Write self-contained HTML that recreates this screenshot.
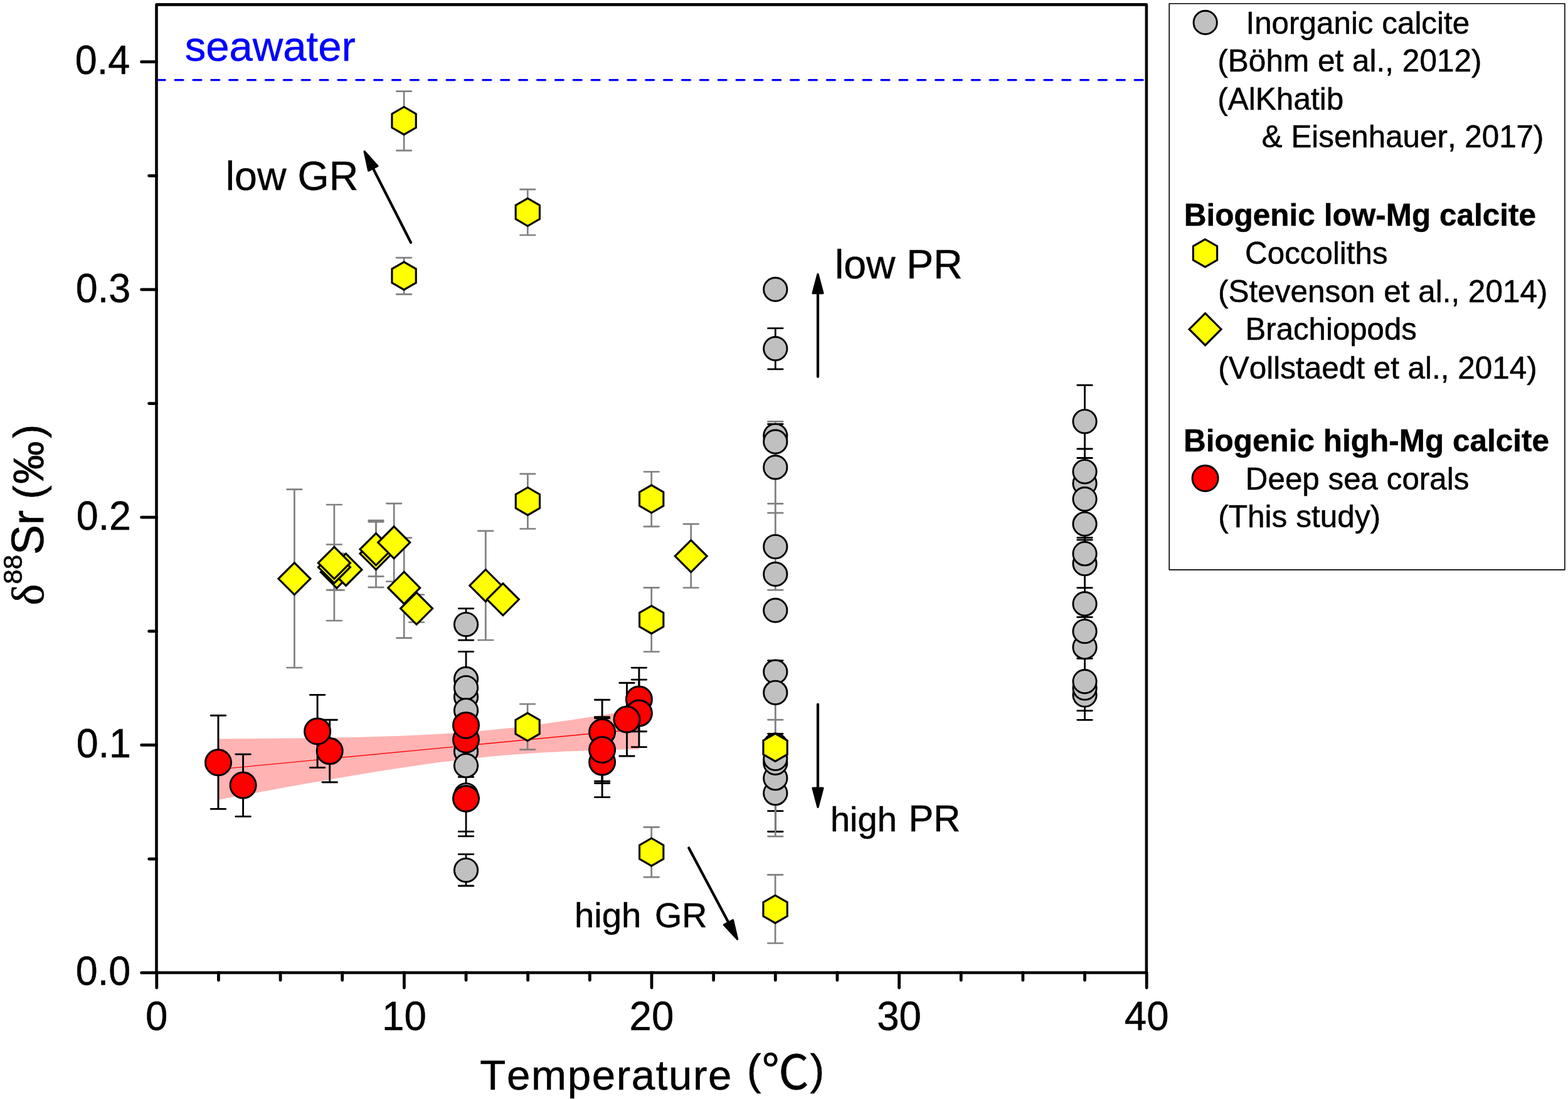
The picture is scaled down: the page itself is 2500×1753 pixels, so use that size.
<!DOCTYPE html>
<html lang="en"><head><meta charset="utf-8"><title>δ88Sr versus temperature</title>
<style>html,body{margin:0;padding:0;background:#fff}body{width:2500px;height:1753px;overflow:hidden}svg{display:block}text{white-space:pre;font-kerning:none;stroke:#000;stroke-width:0.5px;stroke-linejoin:round}</style>
</head><body>
<svg width="2500" height="1753" viewBox="0 0 2500 1753" role="img" aria-label="Strontium isotope composition versus temperature">
<rect x="0" y="0" width="2500" height="1753" fill="#ffffff"/>
<polygon points="348,1178.5 364.77,1178.42 381.55,1178.32 398.32,1178.21 415.1,1178.08 431.88,1177.94 448.65,1177.78 465.43,1177.59 482.2,1177.39 498.98,1177.16 515.75,1176.9 532.52,1176.6 549.3,1176.27 566.08,1175.9 582.85,1175.49 599.62,1175.02 616.4,1174.49 633.17,1173.9 649.95,1173.23 666.73,1172.48 683.5,1171.64 700.27,1170.69 717.05,1169.64 733.83,1168.47 750.6,1167.17 767.38,1165.74 784.15,1164.17 800.92,1162.47 817.7,1160.64 834.48,1158.68 851.25,1156.6 868.02,1154.4 884.8,1152.09 901.58,1149.69 918.35,1147.19 935.12,1144.62 951.9,1141.98 968.67,1139.28 985.45,1136.52 1002.23,1133.71 1019,1130.85 1019,1195 1002.23,1195.35 985.45,1195.75 968.67,1196.19 951.9,1196.69 935.12,1197.26 918.35,1197.9 901.58,1198.61 884.8,1199.42 868.02,1200.32 851.25,1201.32 834.48,1202.45 817.7,1203.69 800.92,1205.07 784.15,1206.58 767.38,1208.22 750.6,1210 733.83,1211.91 717.05,1213.94 700.27,1216.1 683.5,1218.36 666.73,1220.72 649.95,1223.18 633.17,1225.72 616.4,1228.33 599.62,1231.01 582.85,1233.75 566.08,1236.54 549.3,1239.38 532.52,1242.26 515.75,1245.17 498.98,1248.12 482.2,1251.1 465.43,1254.1 448.65,1257.12 431.88,1260.17 415.1,1263.23 398.32,1266.31 381.55,1269.41 364.77,1272.52 348,1275.64" fill="#ffb3b3"/>
<line x1="348" y1="1227.07" x2="1019" y2="1162.92" stroke="#ff0000" stroke-width="1.3"/>
<line x1="249.5" y1="127.6" x2="1827.9" y2="127.6" stroke="#0000ff" stroke-width="3.3" stroke-linecap="round" stroke-dasharray="12.9 15.97" stroke-dashoffset="-0.75"/>
<g id="errorbars">
<path d="M743.05 970.6V1021.1M731.25 970.6H754.85M731.25 1021.1H754.85" stroke="#000000" stroke-width="2.8" stroke-linecap="round" fill="none"/>
<path d="M743.05 1039.4V1333.9M731.25 1039.4H754.85M731.25 1239.4H754.85M731.25 1326.4H754.85M731.25 1333.9H754.85" stroke="#000000" stroke-width="2.8" stroke-linecap="round" fill="none"/>
<path d="M743.05 1362.6V1413M731.25 1362.6H754.85M731.25 1413H754.85" stroke="#000000" stroke-width="2.8" stroke-linecap="round" fill="none"/>
<path d="M1236.3 523.7V588.8M1224.5 523.7H1248.1M1224.5 588.8H1248.1" stroke="#000000" stroke-width="2.8" stroke-linecap="round" fill="none"/>
<path d="M1236.3 676.5V732M1224.5 676.5H1248.1" stroke="#000000" stroke-width="2.8" stroke-linecap="round" fill="none"/>
<path d="M1236.3 1053.6V1090M1224.5 1053.6H1248.1" stroke="#000000" stroke-width="2.8" stroke-linecap="round" fill="none"/>
<path d="M1236.3 1170.3V1326.5M1224.5 1170.3H1248.1M1224.5 1293.7H1248.1M1224.5 1326.5H1248.1" stroke="#000000" stroke-width="2.8" stroke-linecap="round" fill="none"/>
<path d="M1236.3 672.4V941.2M1224.5 672.4H1248.1M1224.5 803.3H1248.1M1224.5 818.2H1248.1M1224.5 941.2H1248.1" stroke="#808080" stroke-width="2.8" stroke-linecap="round" fill="none"/>
<path d="M1236.3 1104.8V1334.1M1224.5 1148.1H1248.1M1224.5 1334.1H1248.1" stroke="#808080" stroke-width="2.8" stroke-linecap="round" fill="none"/>
<path d="M1729.55 614.4V1148.3M1717.75 614.4H1741.35M1717.75 716H1741.35M1717.75 730.5H1741.35M1717.75 857.6H1741.35M1717.75 861.2H1741.35M1717.75 937.6H1741.35M1717.75 984.4H1741.35M1717.75 1050.4H1741.35M1717.75 1133.7H1741.35M1717.75 1148.3H1741.35" stroke="#000000" stroke-width="2.8" stroke-linecap="round" fill="none"/>
<path d="M469.4 780.6V1065M457.55 780.6H481.25M457.55 1065H481.25" stroke="#808080" stroke-width="2.7" stroke-linecap="round" fill="none"/>
<path d="M536.9 882.9V941.2M525.05 882.9H548.75M525.05 941.2H548.75" stroke="#808080" stroke-width="2.7" stroke-linecap="round" fill="none"/>
<path d="M532.9 868.5V941.2M521.05 868.5H544.75M521.05 941.2H544.75" stroke="#808080" stroke-width="2.7" stroke-linecap="round" fill="none"/>
<path d="M532.9 805V990M521.05 805H544.75M521.05 990H544.75" stroke="#808080" stroke-width="2.7" stroke-linecap="round" fill="none"/>
<path d="M599.5 832.3V936.8M587.65 832.3H611.35M587.65 936.8H611.35" stroke="#808080" stroke-width="2.7" stroke-linecap="round" fill="none"/>
<path d="M599.5 830.1V919.4M587.65 830.1H611.35M587.65 919.4H611.35" stroke="#808080" stroke-width="2.7" stroke-linecap="round" fill="none"/>
<path d="M628.2 803.1V927.5M616.35 803.1H640.05M616.35 927.5H640.05" stroke="#808080" stroke-width="2.7" stroke-linecap="round" fill="none"/>
<path d="M644.2 857.9V1017.6M632.35 857.9H656.05M632.35 1017.6H656.05" stroke="#808080" stroke-width="2.7" stroke-linecap="round" fill="none"/>
<path d="M664.1 948.5V992.5M652.25 948.5H675.95M652.25 992.5H675.95" stroke="#808080" stroke-width="2.7" stroke-linecap="round" fill="none"/>
<path d="M774.3 846.9V1021M762.45 846.9H786.15M762.45 1021H786.15" stroke="#808080" stroke-width="2.7" stroke-linecap="round" fill="none"/>
<path d="M1101.7 835.9V937.5M1089.85 835.9H1113.55M1089.85 937.5H1113.55" stroke="#808080" stroke-width="2.7" stroke-linecap="round" fill="none"/>
<path d="M644.1 145.6V240.2M632.25 145.6H655.95M632.25 240.2H655.95" stroke="#808080" stroke-width="2.7" stroke-linecap="round" fill="none"/>
<path d="M644.1 411.1V469.4M632.25 411.1H655.95M632.25 469.4H655.95" stroke="#808080" stroke-width="2.7" stroke-linecap="round" fill="none"/>
<path d="M841.3 302.1V375M829.45 302.1H853.15M829.45 375H853.15" stroke="#808080" stroke-width="2.7" stroke-linecap="round" fill="none"/>
<path d="M841.4 755.9V843.5M829.55 755.9H853.25M829.55 843.5H853.25" stroke="#808080" stroke-width="2.7" stroke-linecap="round" fill="none"/>
<path d="M1038.7 752.5V839.8M1026.85 752.5H1050.55M1026.85 839.8H1050.55" stroke="#808080" stroke-width="2.7" stroke-linecap="round" fill="none"/>
<path d="M1038.7 937.3V1039.5M1026.85 937.3H1050.55M1026.85 1039.5H1050.55" stroke="#808080" stroke-width="2.7" stroke-linecap="round" fill="none"/>
<path d="M841.1 1123V1195.6M829.25 1123H852.95M829.25 1195.6H852.95" stroke="#808080" stroke-width="2.7" stroke-linecap="round" fill="none"/>
<path d="M1038.7 1319.4V1399.1M1026.85 1319.4H1050.55M1026.85 1399.1H1050.55" stroke="#808080" stroke-width="2.7" stroke-linecap="round" fill="none"/>
<path d="M1236.1 1395.4V1504.5M1224.25 1395.4H1247.95M1224.25 1504.5H1247.95" stroke="#808080" stroke-width="2.7" stroke-linecap="round" fill="none"/>
<path d="M348 1141.2V1290.4M336.25 1141.2H359.75M336.25 1290.4H359.75" stroke="#000000" stroke-width="2.9" stroke-linecap="round" fill="none"/>
<path d="M387.6 1203.1V1302.4M375.85 1203.1H399.35M375.85 1302.4H399.35" stroke="#000000" stroke-width="2.9" stroke-linecap="round" fill="none"/>
<path d="M525.7 1148.2V1247.7M513.95 1148.2H537.45M513.95 1247.7H537.45" stroke="#000000" stroke-width="2.9" stroke-linecap="round" fill="none"/>
<path d="M506.1 1108.4V1224.4M494.35 1108.4H517.85M494.35 1224.4H517.85" stroke="#000000" stroke-width="2.9" stroke-linecap="round" fill="none"/>
<path d="M960.1 1116.3V1219M948.35 1116.3H971.85M948.35 1219H971.85" stroke="#000000" stroke-width="2.9" stroke-linecap="round" fill="none"/>
<path d="M960.1 1160V1271.6M948.35 1160H971.85M948.35 1271.6H971.85" stroke="#000000" stroke-width="2.9" stroke-linecap="round" fill="none"/>
<path d="M960.1 1143.7V1246.1M948.35 1143.7H971.85M948.35 1246.1H971.85" stroke="#000000" stroke-width="2.9" stroke-linecap="round" fill="none"/>
<path d="M960.1 1145.5V1249.3M948.35 1145.5H971.85M948.35 1249.3H971.85" stroke="#000000" stroke-width="2.9" stroke-linecap="round" fill="none"/>
<path d="M1018.9 1065.1V1166.8M1007.15 1065.1H1030.65M1007.15 1166.8H1030.65" stroke="#000000" stroke-width="2.9" stroke-linecap="round" fill="none"/>
<path d="M1018.9 1084.1V1191.6M1007.15 1084.1H1030.65M1007.15 1191.6H1030.65" stroke="#000000" stroke-width="2.9" stroke-linecap="round" fill="none"/>
<path d="M999.5 1089.3V1206M987.75 1089.3H1011.25M987.75 1206H1011.25" stroke="#000000" stroke-width="2.9" stroke-linecap="round" fill="none"/>
</g>
<g id="inorganic">
<circle cx="743.05" cy="1082.9" r="18.65" fill="#c0c0c0" stroke="#000" stroke-width="2.9"/>
<circle cx="743.05" cy="1111.7" r="18.65" fill="#c0c0c0" stroke="#000" stroke-width="2.9"/>
<circle cx="743.05" cy="1097" r="18.65" fill="#c0c0c0" stroke="#000" stroke-width="2.9"/>
<circle cx="743.05" cy="1133.2" r="18.65" fill="#c0c0c0" stroke="#000" stroke-width="2.9"/>
<circle cx="743.05" cy="1198.8" r="18.65" fill="#c0c0c0" stroke="#000" stroke-width="2.9"/>
<circle cx="743.05" cy="1221.2" r="18.65" fill="#c0c0c0" stroke="#000" stroke-width="2.9"/>
<circle cx="743.05" cy="1268.3" r="18.65" fill="#c0c0c0" stroke="#000" stroke-width="2.9"/>
<circle cx="743.05" cy="996" r="18.65" fill="#c0c0c0" stroke="#000" stroke-width="2.9"/>
<circle cx="743.05" cy="1388" r="18.65" fill="#c0c0c0" stroke="#000" stroke-width="2.9"/>
<circle cx="1236.3" cy="461.6" r="18.65" fill="#c0c0c0" stroke="#000" stroke-width="2.9"/>
<circle cx="1236.3" cy="556.1" r="18.65" fill="#c0c0c0" stroke="#000" stroke-width="2.9"/>
<circle cx="1236.3" cy="695" r="18.65" fill="#c0c0c0" stroke="#000" stroke-width="2.9"/>
<circle cx="1236.3" cy="704.6" r="18.65" fill="#c0c0c0" stroke="#000" stroke-width="2.9"/>
<circle cx="1236.3" cy="745.4" r="18.65" fill="#c0c0c0" stroke="#000" stroke-width="2.9"/>
<circle cx="1236.3" cy="872" r="18.65" fill="#c0c0c0" stroke="#000" stroke-width="2.9"/>
<circle cx="1236.3" cy="915.9" r="18.65" fill="#c0c0c0" stroke="#000" stroke-width="2.9"/>
<circle cx="1236.3" cy="973.6" r="18.65" fill="#c0c0c0" stroke="#000" stroke-width="2.9"/>
<circle cx="1236.3" cy="1071.6" r="18.65" fill="#c0c0c0" stroke="#000" stroke-width="2.9"/>
<circle cx="1236.3" cy="1104.8" r="18.65" fill="#c0c0c0" stroke="#000" stroke-width="2.9"/>
<circle cx="1236.3" cy="1188.5" r="18.65" fill="#c0c0c0" stroke="#000" stroke-width="2.9"/>
<circle cx="1236.3" cy="1265.2" r="18.65" fill="#c0c0c0" stroke="#000" stroke-width="2.9"/>
<circle cx="1236.3" cy="1241.2" r="18.65" fill="#c0c0c0" stroke="#000" stroke-width="2.9"/>
<circle cx="1236.3" cy="1216.9" r="18.65" fill="#c0c0c0" stroke="#000" stroke-width="2.9"/>
<circle cx="1236.3" cy="1209.9" r="18.65" fill="#c0c0c0" stroke="#000" stroke-width="2.9"/>
<circle cx="1729.55" cy="1108.5" r="18.65" fill="#c0c0c0" stroke="#000" stroke-width="2.9"/>
<circle cx="1729.55" cy="1097.5" r="18.65" fill="#c0c0c0" stroke="#000" stroke-width="2.9"/>
<circle cx="1729.55" cy="1087.1" r="18.65" fill="#c0c0c0" stroke="#000" stroke-width="2.9"/>
<circle cx="1729.55" cy="1032.2" r="18.65" fill="#c0c0c0" stroke="#000" stroke-width="2.9"/>
<circle cx="1729.55" cy="1007" r="18.65" fill="#c0c0c0" stroke="#000" stroke-width="2.9"/>
<circle cx="1729.55" cy="963.2" r="18.65" fill="#c0c0c0" stroke="#000" stroke-width="2.9"/>
<circle cx="1729.55" cy="899" r="18.65" fill="#c0c0c0" stroke="#000" stroke-width="2.9"/>
<circle cx="1729.55" cy="883.2" r="18.65" fill="#c0c0c0" stroke="#000" stroke-width="2.9"/>
<circle cx="1729.55" cy="835.8" r="18.65" fill="#c0c0c0" stroke="#000" stroke-width="2.9"/>
<circle cx="1729.55" cy="771" r="18.65" fill="#c0c0c0" stroke="#000" stroke-width="2.9"/>
<circle cx="1729.55" cy="796.1" r="18.65" fill="#c0c0c0" stroke="#000" stroke-width="2.9"/>
<circle cx="1729.55" cy="752.3" r="18.65" fill="#c0c0c0" stroke="#000" stroke-width="2.9"/>
<circle cx="1729.55" cy="672.3" r="18.65" fill="#c0c0c0" stroke="#000" stroke-width="2.9"/>
</g>
<g id="brachiopods">
<path d="M469.4 897.6L494.9 923.1L469.4 948.6L443.9 923.1Z" fill="#ffff00" stroke="#000" stroke-width="3.1" stroke-linejoin="miter"/>
<path d="M536.9 887L562.4 912.5L536.9 938L511.4 912.5Z" fill="#ffff00" stroke="#000" stroke-width="3.1" stroke-linejoin="miter"/>
<path d="M551.5 883.2L577 908.7L551.5 934.2L526 908.7Z" fill="#ffff00" stroke="#000" stroke-width="3.1" stroke-linejoin="miter"/>
<path d="M532.9 879.2L558.4 904.7L532.9 930.2L507.4 904.7Z" fill="#ffff00" stroke="#000" stroke-width="3.1" stroke-linejoin="miter"/>
<path d="M532.9 872.4L558.4 897.9L532.9 923.4L507.4 897.9Z" fill="#ffff00" stroke="#000" stroke-width="3.1" stroke-linejoin="miter"/>
<path d="M599.5 857.6L625 883.1L599.5 908.6L574 883.1Z" fill="#ffff00" stroke="#000" stroke-width="3.1" stroke-linejoin="miter"/>
<path d="M599.5 850.6L625 876.1L599.5 901.6L574 876.1Z" fill="#ffff00" stroke="#000" stroke-width="3.1" stroke-linejoin="miter"/>
<path d="M628.2 839.8L653.7 865.3L628.2 890.8L602.7 865.3Z" fill="#ffff00" stroke="#000" stroke-width="3.1" stroke-linejoin="miter"/>
<path d="M644.2 912.2L669.7 937.7L644.2 963.2L618.7 937.7Z" fill="#ffff00" stroke="#000" stroke-width="3.1" stroke-linejoin="miter"/>
<path d="M664.1 945.1L689.6 970.6L664.1 996.1L638.6 970.6Z" fill="#ffff00" stroke="#000" stroke-width="3.1" stroke-linejoin="miter"/>
<path d="M774.3 908.5L799.8 934L774.3 959.5L748.8 934Z" fill="#ffff00" stroke="#000" stroke-width="3.1" stroke-linejoin="miter"/>
<path d="M801.9 930.6L827.4 956.1L801.9 981.6L776.4 956.1Z" fill="#ffff00" stroke="#000" stroke-width="3.1" stroke-linejoin="miter"/>
<path d="M1101.7 861.6L1127.2 887.1L1101.7 912.6L1076.2 887.1Z" fill="#ffff00" stroke="#000" stroke-width="3.1" stroke-linejoin="miter"/>
</g>
<g id="coccoliths">
<path d="M644.1 170.5L624.96 181.55L624.96 203.65L644.1 214.7L663.24 203.65L663.24 181.55Z" fill="#ffff00" stroke="#000" stroke-width="3.1" stroke-linejoin="miter"/>
<path d="M644.1 417.9L624.96 428.95L624.96 451.05L644.1 462.1L663.24 451.05L663.24 428.95Z" fill="#ffff00" stroke="#000" stroke-width="3.1" stroke-linejoin="miter"/>
<path d="M841.3 316.3L822.16 327.35L822.16 349.45L841.3 360.5L860.44 349.45L860.44 327.35Z" fill="#ffff00" stroke="#000" stroke-width="3.1" stroke-linejoin="miter"/>
<path d="M841.4 777.5L822.26 788.55L822.26 810.65L841.4 821.7L860.54 810.65L860.54 788.55Z" fill="#ffff00" stroke="#000" stroke-width="3.1" stroke-linejoin="miter"/>
<path d="M1038.7 773.8L1019.56 784.85L1019.56 806.95L1038.7 818L1057.84 806.95L1057.84 784.85Z" fill="#ffff00" stroke="#000" stroke-width="3.1" stroke-linejoin="miter"/>
<path d="M1038.7 966.4L1019.56 977.45L1019.56 999.55L1038.7 1010.6L1057.84 999.55L1057.84 977.45Z" fill="#ffff00" stroke="#000" stroke-width="3.1" stroke-linejoin="miter"/>
<path d="M841.1 1137.4L821.96 1148.45L821.96 1170.55L841.1 1181.6L860.24 1170.55L860.24 1148.45Z" fill="#ffff00" stroke="#000" stroke-width="3.1" stroke-linejoin="miter"/>
<path d="M1038.7 1337L1019.56 1348.05L1019.56 1370.15L1038.7 1381.2L1057.84 1370.15L1057.84 1348.05Z" fill="#ffff00" stroke="#000" stroke-width="3.1" stroke-linejoin="miter"/>
<path d="M1236.1 1170.2L1216.96 1181.25L1216.96 1203.35L1236.1 1214.4L1255.24 1203.35L1255.24 1181.25Z" fill="#ffff00" stroke="#000" stroke-width="3.1" stroke-linejoin="miter"/>
<path d="M1236.1 1428.2L1216.96 1439.25L1216.96 1461.35L1236.1 1472.4L1255.24 1461.35L1255.24 1439.25Z" fill="#ffff00" stroke="#000" stroke-width="3.1" stroke-linejoin="miter"/>
</g>
<g id="corals">
<circle cx="348" cy="1216.2" r="20.5" fill="#ff0000" stroke="#000" stroke-width="3.0"/>
<circle cx="387.6" cy="1252.5" r="20.5" fill="#ff0000" stroke="#000" stroke-width="3.0"/>
<circle cx="525.7" cy="1198.1" r="20.5" fill="#ff0000" stroke="#000" stroke-width="3.0"/>
<circle cx="506.1" cy="1166.5" r="20.5" fill="#ff0000" stroke="#000" stroke-width="3.0"/>
<circle cx="743.05" cy="1179.8" r="20.5" fill="#ff0000" stroke="#000" stroke-width="3.0"/>
<circle cx="743.05" cy="1156.9" r="20.5" fill="#ff0000" stroke="#000" stroke-width="3.0"/>
<circle cx="743.05" cy="1273.9" r="20.5" fill="#ff0000" stroke="#000" stroke-width="3.0"/>
<circle cx="960.1" cy="1167.7" r="20.5" fill="#ff0000" stroke="#000" stroke-width="3.0"/>
<circle cx="960.1" cy="1215.6" r="20.5" fill="#ff0000" stroke="#000" stroke-width="3.0"/>
<circle cx="960.1" cy="1196" r="20.5" fill="#ff0000" stroke="#000" stroke-width="3.0"/>
<circle cx="1018.9" cy="1115.4" r="20.5" fill="#ff0000" stroke="#000" stroke-width="3.0"/>
<circle cx="1018.9" cy="1137.6" r="20.5" fill="#ff0000" stroke="#000" stroke-width="3.0"/>
<circle cx="999.5" cy="1147.6" r="20.5" fill="#ff0000" stroke="#000" stroke-width="3.0"/>
</g>
<g id="arrows">
<line x1="655" y1="386.8" x2="594.64" y2="268.19" stroke="#000" stroke-width="4.2" stroke-linecap="round"/>
<path d="M581.13 241.63L601.95 264.91L587.69 272.17Z" fill="#000" stroke="#000" stroke-width="3.2" stroke-linejoin="round"/>
<line x1="1304" y1="600.8" x2="1304" y2="467.3" stroke="#000" stroke-width="4.2" stroke-linecap="round"/>
<path d="M1304 437.5L1312 467.7L1296 467.7Z" fill="#000" stroke="#000" stroke-width="3.2" stroke-linejoin="round"/>
<line x1="1304" y1="1123.5" x2="1304" y2="1257.6" stroke="#000" stroke-width="4.2" stroke-linecap="round"/>
<path d="M1304 1287.4L1296 1257.2L1312 1257.2Z" fill="#000" stroke="#000" stroke-width="3.2" stroke-linejoin="round"/>
<line x1="1098.2" y1="1352.5" x2="1161.65" y2="1471.78" stroke="#000" stroke-width="4.2" stroke-linecap="round"/>
<path d="M1175.65 1498.09L1154.4 1475.18L1168.53 1467.67Z" fill="#000" stroke="#000" stroke-width="3.2" stroke-linejoin="round"/>
</g>
<g id="axes" stroke="#000" stroke-linecap="round" fill="none">
<rect x="249.5" y="7.4" width="1578.4" height="1544.1" stroke-width="4.6" stroke-linejoin="round"/>
<path d="M249.5 1551.7H225.6M249.5 1188.45H225.6M249.5 825.2H225.6M249.5 461.95H225.6M249.5 98.7H225.6M249.5 1370.08H237.6M249.5 1006.82H237.6M249.5 643.58H237.6M249.5 280.32H237.6M249.8 1551.5V1575.6M644.4 1551.5V1575.6M1039 1551.5V1575.6M1433.6 1551.5V1575.6M1828.2 1551.5V1575.6M348.45 1551.5V1563.4M447.1 1551.5V1563.4M545.75 1551.5V1563.4M743.05 1551.5V1563.4M841.7 1551.5V1563.4M940.35 1551.5V1563.4M1137.65 1551.5V1563.4M1236.3 1551.5V1563.4M1334.95 1551.5V1563.4M1532.25 1551.5V1563.4M1630.9 1551.5V1563.4M1729.55 1551.5V1563.4" stroke-width="4.8"/>
</g>
<g id="ticklabels">
<text transform="translate(120.74 1571.4) scale(0.958 1)" font-family="Liberation Sans, sans-serif" font-size="65.6">0.0</text>
<text transform="translate(121.7 1208.15) scale(0.958 1)" font-family="Liberation Sans, sans-serif" font-size="65.6">0.1</text>
<text transform="translate(121.7 844.9) scale(0.958 1)" font-family="Liberation Sans, sans-serif" font-size="65.6">0.2</text>
<text transform="translate(120.74 481.65) scale(0.958 1)" font-family="Liberation Sans, sans-serif" font-size="65.6">0.3</text>
<text transform="translate(119.78 118.4) scale(0.958 1)" font-family="Liberation Sans, sans-serif" font-size="65.6">0.4</text>
<text transform="translate(249.8 1642.7) scale(0.97 1)" text-anchor="middle" font-family="Liberation Sans, sans-serif" font-size="65.6">0</text>
<text transform="translate(644.4 1642.7) scale(0.97 1)" text-anchor="middle" font-family="Liberation Sans, sans-serif" font-size="65.6">10</text>
<text transform="translate(1039 1642.7) scale(0.97 1)" text-anchor="middle" font-family="Liberation Sans, sans-serif" font-size="65.6">20</text>
<text transform="translate(1433.6 1642.7) scale(0.97 1)" text-anchor="middle" font-family="Liberation Sans, sans-serif" font-size="65.6">30</text>
<text transform="translate(1828.2 1642.7) scale(0.97 1)" text-anchor="middle" font-family="Liberation Sans, sans-serif" font-size="65.6">40</text>
</g>
<text font-family="Liberation Sans, Noto Sans CJK JP, sans-serif" font-size="67.3"><tspan x="765.3" y="1738" letter-spacing="1.6">Temperature </tspan><tspan x="1190.8" y="1729.7" font-size="68.5">(</tspan><tspan x="1214.4" y="1737.4" font-size="75.5">℃</tspan><tspan x="1291.5" y="1729.7" font-size="68.5">)</tspan></text>
<text transform="translate(69.4 963.6) rotate(-90)" font-family="Liberation Sans, sans-serif" font-size="71.5"><tspan x="-2" y="0" font-family="Liberation Serif, serif" font-size="72">δ</tspan><tspan x="31.8" y="-34.3" font-size="42.3">88</tspan><tspan x="78.5" y="0">Sr </tspan><tspan x="167.35" y="-1.7" font-size="66">(</tspan><tspan x="191.7" y="0" font-size="68.5">‰</tspan><tspan x="264.5" y="-1.7" font-size="66">)</tspan></text>
<text transform="translate(294.71 96.9) scale(0.9952 1)" font-family="Liberation Sans, sans-serif" font-size="67.4" fill="#0000ff" style="stroke:#0000ff">seawater</text>
<text transform="translate(359.77 303.2) scale(1.0079 1)" font-family="Liberation Sans, sans-serif" font-size="64" fill="#000">low GR</text>
<text transform="translate(1330.88 444) scale(1.0056 1)" font-family="Liberation Sans, sans-serif" font-size="64" fill="#000">low PR</text>
<text y="1325.6" font-family="Liberation Sans, sans-serif" font-size="56.1"><tspan x="1323.9">high </tspan><tspan x="1448.55" font-size="59.7">PR</tspan></text>
<text y="1479" font-family="Liberation Sans, sans-serif" font-size="56.3"><tspan x="915.9">high </tspan><tspan x="1043.9" font-size="55.6">GR</tspan></text>
<g id="legend">
<rect x="1864.2" y="5.7" width="630.7" height="903.15" fill="#fff" stroke="#000" stroke-width="1.6" stroke-linejoin="round"/>
<circle cx="1921.7" cy="35.9" r="18.65" fill="#c0c0c0" stroke="#000" stroke-width="2.9"/>
<path d="M1921.5 381.7L1902.36 392.75L1902.36 414.85L1921.5 425.9L1940.64 414.85L1940.64 392.75Z" fill="#ffff00" stroke="#000" stroke-width="3.1" stroke-linejoin="miter"/>
<path d="M1921.6 499.7L1947.1 525.2L1921.6 550.7L1896.1 525.2Z" fill="#ffff00" stroke="#000" stroke-width="3.1" stroke-linejoin="miter"/>
<circle cx="1921.6" cy="763" r="20.5" fill="#ff0000" stroke="#000" stroke-width="3.0"/>
<text transform="translate(1986.43 53.7) scale(0.9918 1)" font-family="Liberation Sans, sans-serif" font-size="49.8" fill="#000">Inorganic calcite</text>
<text transform="translate(1941.32 114) scale(0.9950 1)" font-family="Liberation Sans, sans-serif" font-size="49.8" fill="#000">(Böhm et al., 2012)</text>
<text transform="translate(1941.32 174.8) scale(0.9944 1)" font-family="Liberation Sans, sans-serif" font-size="49.8" fill="#000">(AlKhatib</text>
<text transform="translate(2011.81 235.4) scale(0.9907 1)" font-family="Liberation Sans, sans-serif" font-size="49.8" fill="#000">&amp; Eisenhauer, 2017)</text>
<text transform="translate(1887.72 360) scale(0.9950 1)" font-family="Liberation Sans, sans-serif" font-size="49.8" font-weight="bold" fill="#000">Biogenic low-Mg calcite</text>
<text transform="translate(1985.12 420.7) scale(0.9907 1)" font-family="Liberation Sans, sans-serif" font-size="49.8" fill="#000">Coccoliths</text>
<text transform="translate(1942.12 482) scale(0.9939 1)" font-family="Liberation Sans, sans-serif" font-size="49.8" fill="#000">(Stevenson et al., 2014)</text>
<text transform="translate(1985.55 542.2) scale(0.9875 1)" font-family="Liberation Sans, sans-serif" font-size="49.8" fill="#000">Brachiopods</text>
<text transform="translate(1942.22 603.7) scale(0.9933 1)" font-family="Liberation Sans, sans-serif" font-size="49.8" fill="#000">(Vollstaedt et al., 2014)</text>
<text transform="translate(1887.12 719.7) scale(0.9940 1)" font-family="Liberation Sans, sans-serif" font-size="49.8" font-weight="bold" fill="#000">Biogenic high-Mg calcite</text>
<text transform="translate(1985.84 780.9) scale(0.9910 1)" font-family="Liberation Sans, sans-serif" font-size="49.8" fill="#000">Deep sea corals</text>
<text transform="translate(1942.21 841.2) scale(0.9961 1)" font-family="Liberation Sans, sans-serif" font-size="49.8" fill="#000">(This study)</text>
</g>
</svg>
</body></html>
